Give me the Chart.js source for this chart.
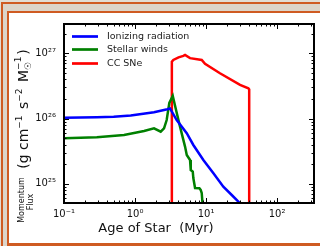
<!DOCTYPE html>
<html>
<head>
<meta charset="utf-8">
<script src="https://cdn.jsdelivr.net/npm/chart.js"></script>
<style>
  html, body { margin: 0; padding: 0; background: #e2ddd4; overflow: hidden; }
  #outer { position: absolute; left: 1px; top: 2px; width: 400px; height: 300px;
           border: 2px solid #cf5b22; background: #dcd5ca; }
  #inner { position: absolute; left: 7px; top: 11px; width: 400px; height: 230px;
           border: 2px solid #cf5b22; border-bottom-width: 3px; background: #fff; }
  #wrap { position: absolute; left: 0; top: 0; width: 320px; height: 246px; }
</style>
</head>
<body>
<div id="outer"></div>
<div id="inner"></div>
<div id="wrap"><canvas id="myChart" width="320" height="246"></canvas></div>

<script>
// ages in Myr, fluxes in g cm^-1 s^-2 Msun^-1
const ionAge  = [0.1, 0.29, 0.5, 0.87, 1.85, 2.85, 3.11, 3.86, 5.35, 6.62, 9.16, 12.7, 17.5, 23.0, 30.1, 33];
const ionFlux = [1.03e26, 1.05e26, 1.07e26, 1.11e26, 1.25e26, 1.39e26, 1.43e26, 9.5e25, 5.96e25, 3.94e25, 2.32e25, 1.45e25, 9.06e24, 6.76e24, 5.05e24, 4.5e24];

const windAge  = [0.1, 0.29, 0.70, 1.34, 1.85, 2.30, 2.56, 2.79, 3.04, 3.40, 3.78, 4.30, 5.06, 5.35, 5.95, 6.09, 6.5, 6.62, 7.0, 8.05, 8.4, 8.69, 8.99];
const windFlux = [4.99e25, 5.17e25, 5.61e25, 6.46e25, 7.1e25, 6.3e25, 7.1e25, 9.5e25, 1.73e26, 2.22e26, 1.35e26, 7.52e25, 3.72e25, 2.77e25, 2.32e25, 1.63e25, 1.54e25, 1.23e25, 8.65e24, 8.6e24, 8.1e24, 7.26e24, 4.5e24];

const snAge  = [3.3, 3.3, 3.46, 4.1, 4.79, 5.06, 5.95, 8.69, 9.68, 15.7, 30.1, 39.4, 40.5, 40.5];
const snFlux = [1e24, 7.43e26, 7.9e26, 8.65e26, 9.1e26, 9.4e26, 8.4e26, 7.9e26, 6.86e26, 4.94e26, 3.27e26, 2.91e26, 2.8e26, 1e24];

const seriesNames = ['Ionizing radiation', 'Stellar winds', 'CC SNe'];
const seriesColors = ['#0000ff', '#008000', '#ff0000'];

const xTickLabels = {'-1': '10⁻¹', '0': '10⁰', '1': '10¹', '2': '10²'};
const yTickLabels = {'25': '10²⁵', '26': '10²⁶', '27': '10²⁷'};

const FONT = "'DejaVu Sans', sans-serif";

function pts(xs, ys) {
    return xs.map((x, i) => ({x: x, y: ys[i]}));
}

function decadeLabel(map) {
    return function (value) {
        const e = Math.log10(value);
        if (Math.abs(e - Math.round(e)) < 1e-9 && map[Math.round(e)] !== undefined) {
            return map[Math.round(e)];
        }
        return '';
    };
}

// matplotlib style frame with inward ticks on all sides
const frameTicks = {
    id: 'frameTicks',
    afterDatasetsDraw(chart) {
        const {ctx, chartArea: a, scales: {x, y}} = chart;
        ctx.save();
        ctx.strokeStyle = '#000';
        ctx.lineWidth = 1;
        ctx.beginPath();
        for (let n = -2; n <= 3; n++) {
            for (let k = 1; k <= 9; k++) {
                const v = k * Math.pow(10, n);
                if (v > x.min && v < x.max) {
                    const px = Math.round(x.getPixelForValue(v)) + 0.5;
                    const len = k === 1 ? 5 : 2.5;
                    ctx.moveTo(px, a.bottom); ctx.lineTo(px, a.bottom - len);
                    ctx.moveTo(px, a.top); ctx.lineTo(px, a.top + len);
                }
            }
        }
        for (let n = 24; n <= 28; n++) {
            for (let k = 1; k <= 9; k++) {
                const v = k * Math.pow(10, n);
                if (v > y.min && v < y.max) {
                    const py = Math.round(y.getPixelForValue(v)) + 0.5;
                    const len = k === 1 ? 5 : 2.5;
                    ctx.moveTo(a.left, py); ctx.lineTo(a.left + len, py);
                    ctx.moveTo(a.right, py); ctx.lineTo(a.right - len, py);
                }
            }
        }
        ctx.stroke();
        ctx.lineWidth = 2;
        ctx.strokeRect(a.left, a.top, a.right - a.left, a.bottom - a.top);
        ctx.restore();
    }
};

const insideLegend = {
    id: 'insideLegend',
    afterDatasetsDraw(chart) {
        const {ctx, chartArea: a} = chart;
        const rows = [12.5, 25.5, 39.5];
        ctx.save();
        ctx.font = '9.5px ' + FONT;
        ctx.textBaseline = 'middle';
        chart.data.datasets.forEach((ds, i) => {
            const yy = a.top + rows[i];
            ctx.strokeStyle = ds.borderColor;
            ctx.lineWidth = 2.7;
            ctx.beginPath();
            ctx.moveTo(a.left + 8, yy);
            ctx.lineTo(a.left + 34, yy);
            ctx.stroke();
            ctx.fillStyle = '#222';
            ctx.fillText(ds.label, a.left + 43, yy + 0.5);
        });
        ctx.restore();
    }
};

// runs of text with super/subscripts along a line
function drawRuns(ctx, runs, cx, cy, rotate) {
    ctx.save();
    ctx.translate(cx, cy);
    if (rotate) ctx.rotate(-Math.PI / 2);
    let total = 0;
    runs.forEach(r => {
        ctx.font = r.size + 'px ' + FONT;
        r.w = ctx.measureText(r.t).width + (r.gap || 0);
        total += r.stack ? 0 : r.w;
    });
    let xx = -total / 2;
    ctx.textBaseline = 'alphabetic';
    ctx.fillStyle = '#111';
    runs.forEach(r => {
        ctx.font = r.size + 'px ' + FONT;
        ctx.fillText(r.t, xx, r.dy || 0);
        if (!r.stack) xx += r.w;
    });
    ctx.restore();
}

const axisTitles = {
    id: 'axisTitles',
    afterDraw(chart) {
        const ctx = chart.ctx;
        drawRuns(ctx, [
            {t: '(g cm', size: 14},
            {t: '−1', size: 9, dy: -6, gap: 2},
            {t: ' s', size: 14},
            {t: '−2', size: 9, dy: -6, gap: 2},
            {t: ' M', size: 14},
            {t: '☉', size: 9, dy: 3, stack: true},
            {t: '−1', size: 9, dy: -7, gap: 2},
            {t: ')', size: 14}
        ], 28, 109, true);
        drawRuns(ctx, [{t: 'Momentum', size: 8}], 24, 200, true);
        drawRuns(ctx, [{t: 'Flux', size: 8}], 33, 202, true);
        drawRuns(ctx, [{t: 'Age of Star  (Myr)', size: 13}], 156, 232, false);
    }
};

const series = [pts(ionAge, ionFlux), pts(windAge, windFlux), pts(snAge, snFlux)];

new Chart(document.getElementById('myChart'), {
    type: 'line',
    data: {
        datasets: series.map((d, i) => ({
            label: seriesNames[i],
            data: d,
            borderColor: seriesColors[i],
            backgroundColor: seriesColors[i],
            borderWidth: 2.5,
            pointRadius: 0,
            tension: 0,
            fill: false
        }))
    },
    options: {
        responsive: false,
        animation: false,
        layout: {padding: {left: 0, top: 24, right: 6, bottom: 0}},
        plugins: {legend: {display: false}, tooltip: {enabled: false}},
        scales: {
            x: {
                type: 'logarithmic',
                min: 0.1,
                max: 331,
                grid: {display: false, drawTicks: false},
                border: {display: false},
                ticks: {
                    autoSkip: false, maxRotation: 0, padding: 5,
                    color: '#111', font: {family: FONT, size: 10},
                    callback: decadeLabel(xTickLabels)
                },
                afterFit(s) { s.height = 43; }
            },
            y: {
                type: 'logarithmic',
                min: 5.1e24,
                max: 2.8e27,
                grid: {display: false, drawTicks: false},
                border: {display: false},
                ticks: {
                    autoSkip: false, padding: 8,
                    color: '#111', font: {family: FONT, size: 10},
                    callback: decadeLabel(yTickLabels)
                },
                afterFit(s) { s.width = 64; }
            }
        }
    },
    plugins: [frameTicks, insideLegend, axisTitles]
});
</script>
</body>
</html>
